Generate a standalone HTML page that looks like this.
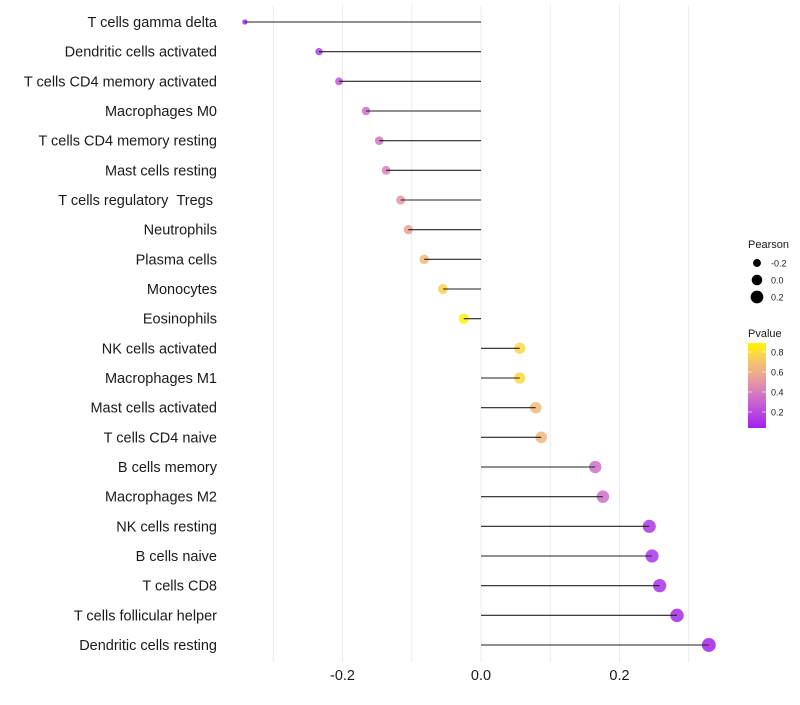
<!DOCTYPE html>
<html><head><meta charset="utf-8"><style>
body{margin:0;background:#fff;font-family:"Liberation Sans",sans-serif}
svg text{font-family:"Liberation Sans",sans-serif}
</style></head><body>
<svg id="c" width="800" height="700"></svg>
<script>
const categories=["T cells gamma delta","Dendritic cells activated","T cells CD4 memory activated","Macrophages M0","T cells CD4 memory resting","Mast cells resting","T cells regulatory \u00a0Tregs\u00a0","Neutrophils","Plasma cells","Monocytes","Eosinophils","NK cells activated","Macrophages M1","Mast cells activated","T cells CD4 naive","B cells memory","Macrophages M2","NK cells resting","B cells naive","T cells CD8","T cells follicular helper","Dendritic cells resting"];
const pearson=[-0.341,-0.234,-0.205,-0.166,-0.147,-0.137,-0.116,-0.105,-0.082,-0.055,-0.025,0.056,0.056,0.079,0.087,0.165,0.176,0.243,0.247,0.258,0.283,0.329];
const pvalue=[0.05,0.15,0.25,0.33,0.37,0.42,0.5,0.55,0.66,0.75,0.92,0.78,0.78,0.66,0.64,0.34,0.34,0.12,0.12,0.1,0.08,0.05];
const xTicks=[-0.2,0.0,0.2];
const grid=[-0.3,-0.2,-0.1,0,0.1,0.2,0.3];
const sizeLegend=[-0.2,0.0,0.2];
const colorTicks=[0.8,0.6,0.4,0.2];
const NS="http://www.w3.org/2000/svg";
const svg=document.getElementById('c');
function x(v){return 481+v*692.5;}
function y(i){return 22+i*29.667;}
function r(v){return Math.sqrt(Math.max(5,28+62*v));}
const cs=[[0.04,[160,32,240]],[0.3,[200,100,210]],[0.5,[228,150,165]],[0.7,[245,195,110]],[0.89,[255,245,0]]];
function col(p){p=Math.min(0.89,Math.max(0.04,p));for(let k=1;k<cs.length;k++){if(p<=cs[k][0]){const t=(p-cs[k-1][0])/(cs[k][0]-cs[k-1][0]);const a=cs[k-1][1],b=cs[k][1];return `rgb(${a.map((c,i)=>Math.round(c+(b[i]-c)*t))})`;}}return 'rgb(255,245,0)';}
function mk(tag,attrs,parent){const e=document.createElementNS(NS,tag);for(const k in attrs)e.setAttribute(k,attrs[k]);(parent||svg).appendChild(e);return e;}
grid.forEach(g=>{const l=mk('line',{x1:x(g),x2:x(g),y1:5,y2:662,stroke:'#ebebeb','stroke-width':1});

});
categories.forEach((c,i)=>{
const t=mk('text',{x:217,y:y(i)+5,'text-anchor':'end','font-size':14.5,fill:'#1a1a1a'});t.textContent=c;


const d=mk('circle',{cx:x(pearson[i]),cy:y(i),r:r(pearson[i]),fill:col(pvalue[i]),'fill-opacity':0.85});


const l=mk('line',{x1:x(0),x2:x(pearson[i]),y1:y(i),y2:y(i),stroke:'#222','stroke-width':1.1});


});
xTicks.forEach(v=>{const t=mk('text',{x:x(v),y:680,'text-anchor':'middle','font-size':14.5,fill:'#1a1a1a'});t.textContent=v.toFixed(1);

});
const lt=mk('text',{x:748,y:248,'font-size':11,fill:'#1a1a1a'});lt.textContent='Pearson';


sizeLegend.forEach((v,i)=>{const cy=263+i*17;const c=mk('circle',{cx:757,cy:cy,r:r(v)});


const t=mk('text',{x:771,y:cy+3.5,'font-size':9,fill:'#1a1a1a'});t.textContent=v.toFixed(1);

});
const pt=mk('text',{x:748,y:337,'font-size':11,fill:'#1a1a1a'});pt.textContent='Pvalue';


const defs=mk('defs',{});const g=mk('linearGradient',{id:'gr',x1:0,y1:1,x2:0,y2:0},defs);
for(let k=0;k<=20;k++){mk('stop',{offset:k/20,'stop-color':col(0.04+0.85*k/20)},g);}
const bar=mk('rect',{x:748,y:343,width:18,height:85,fill:'url(#gr)'});


colorTicks.forEach(v=>{const cy=428-(v-0.04)/0.85*85;
mk('line',{x1:748,x2:752,y1:cy,y2:cy,stroke:'#fff','stroke-opacity':0.6});mk('line',{x1:762,x2:766,y1:cy,y2:cy,stroke:'#fff','stroke-opacity':0.6});
const t=mk('text',{x:771,y:cy+3.5,'font-size':9,fill:'#1a1a1a'});t.textContent=v.toFixed(1);

});
</script>
</body></html>
